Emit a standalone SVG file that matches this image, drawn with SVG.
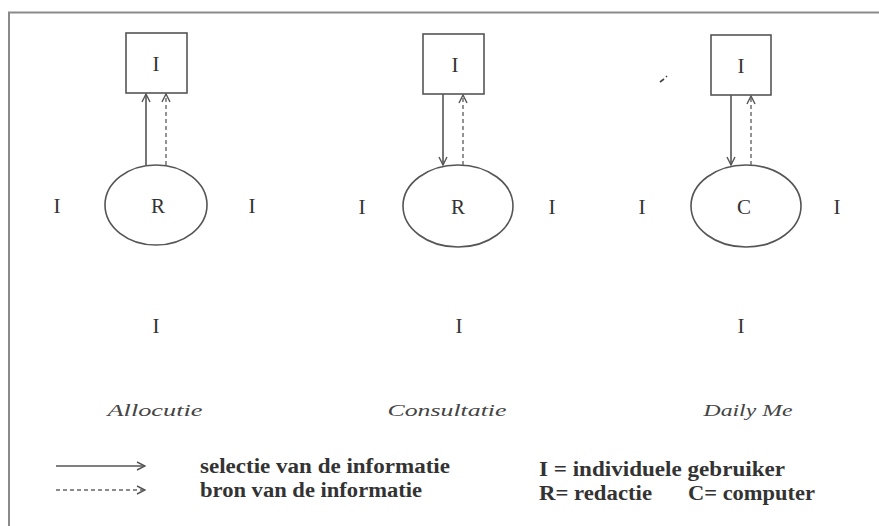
<svg xmlns="http://www.w3.org/2000/svg" width="879" height="526" viewBox="0 0 879 526" font-family="'Liberation Serif', 'DejaVu Serif', serif">
<style>
.frame{fill:none;stroke:#8a8a8a;stroke-width:2}
.shape{fill:none;stroke:#555;stroke-width:1.6}
.sol{fill:none;stroke:#555;stroke-width:1.6}
.dash{fill:none;stroke:#666;stroke-width:1.4;stroke-dasharray:4 3}
.lbl{font-size:21px;fill:#333;text-anchor:middle}
.cap{font-size:17px;font-style:italic;fill:#444;text-anchor:middle}
.leg{font-size:20px;font-weight:bold;fill:#333}
</style>
<defs>
<marker id="ah" viewBox="0 0 10 10" refX="9" refY="5" markerWidth="10" markerHeight="10" markerUnits="userSpaceOnUse" orient="auto">
<path d="M1,1 L9,5 L1,9" fill="none" stroke="#555" stroke-width="1.4"/>
</marker>
</defs>
<rect width="879" height="526" fill="#fff"/>
<path class="frame" d="M9,526 V12.5 H879"/>
<g id="allocutie">
<g id="a-user"><rect class="shape" x="126" y="33" width="61" height="60"/><text class="lbl" x="156" y="71" font-family="Liberation Serif">I</text></g>
<g id="a-R"><ellipse class="shape" cx="156" cy="205" rx="51" ry="40"/><text class="lbl" x="158" y="213" font-family="Liberation Serif">R</text></g>
<g id="a-I-left"><text class="lbl" x="57" y="213" font-family="Liberation Serif">I</text></g>
<g id="a-I-right"><text class="lbl" x="252" y="213" font-family="Liberation Serif">I</text></g>
<g id="a-I-bottom"><text class="lbl" x="156" y="333" font-family="Liberation Serif">I</text></g>
<text class="cap" x="155" y="416" textLength="95" lengthAdjust="spacingAndGlyphs" font-family="Liberation Serif">Allocutie</text>
</g>
<g id="consultatie">
<g id="c-user"><rect class="shape" x="423" y="34" width="61" height="60"/><text class="lbl" x="455" y="72" font-family="Liberation Serif">I</text></g>
<g id="c-R"><ellipse class="shape" cx="458" cy="206" rx="55" ry="41"/><text class="lbl" x="458" y="214" font-family="Liberation Serif">R</text></g>
<g id="c-I-left"><text class="lbl" x="362" y="214" font-family="Liberation Serif">I</text></g>
<g id="c-I-right"><text class="lbl" x="552" y="214" font-family="Liberation Serif">I</text></g>
<g id="c-I-bottom"><text class="lbl" x="459" y="333" font-family="Liberation Serif">I</text></g>
<text class="cap" x="447" y="416" textLength="119" lengthAdjust="spacingAndGlyphs" font-family="Liberation Serif">Consultatie</text>
</g>
<g id="dailyme">
<g id="d-user"><rect class="shape" x="711" y="35" width="60" height="60"/><text class="lbl" x="741" y="73" font-family="Liberation Serif">I</text></g>
<g id="d-C"><ellipse class="shape" cx="746" cy="206" rx="55" ry="41"/><text class="lbl" x="744" y="214" font-family="Liberation Serif">C</text></g>
<g id="d-I-left"><text class="lbl" x="642" y="214" font-family="Liberation Serif">I</text></g>
<g id="d-I-right"><text class="lbl" x="837" y="214" font-family="Liberation Serif">I</text></g>
<g id="d-I-bottom"><text class="lbl" x="741" y="333" font-family="Liberation Serif">I</text></g>
<text class="cap" x="748" y="416" textLength="89" lengthAdjust="spacingAndGlyphs" font-family="Liberation Serif">Daily Me</text>
<path d="M660,82 L664,79 M666,77 L667,76" stroke="#444" stroke-width="1.6" fill="none"/>
</g>
<g id="connectors">
<path class="sol" d="M146,165 V94" marker-end="url(#ah)"/>
<path class="dash" d="M166,165 V94" marker-end="url(#ah)"/>
<path class="sol" d="M443,94 V165" marker-end="url(#ah)"/>
<path class="dash" d="M463,165 V95" marker-end="url(#ah)"/>
<path class="sol" d="M731,95 V165" marker-end="url(#ah)"/>
<path class="dash" d="M751,165 V96" marker-end="url(#ah)"/>
</g>
<g id="legend">
<path class="sol" d="M56,466 H145" marker-end="url(#ah)"/>
<path class="dash" d="M56,490 H145" marker-end="url(#ah)"/>
<text class="leg" x="200" y="473" textLength="250" lengthAdjust="spacingAndGlyphs" font-family="Liberation Serif">selectie van de informatie</text>
<text class="leg" x="200" y="497" textLength="222" lengthAdjust="spacingAndGlyphs" font-family="Liberation Serif">bron van de informatie</text>
<text class="leg" x="539" y="476" textLength="246" lengthAdjust="spacingAndGlyphs" font-family="Liberation Serif">I = individuele gebruiker</text>
<text class="leg" x="539" y="500" textLength="113" lengthAdjust="spacingAndGlyphs" font-family="Liberation Serif">R= redactie</text>
<text class="leg" x="688" y="500" textLength="127" lengthAdjust="spacingAndGlyphs" font-family="Liberation Serif">C= computer</text>
</g>
</svg>
